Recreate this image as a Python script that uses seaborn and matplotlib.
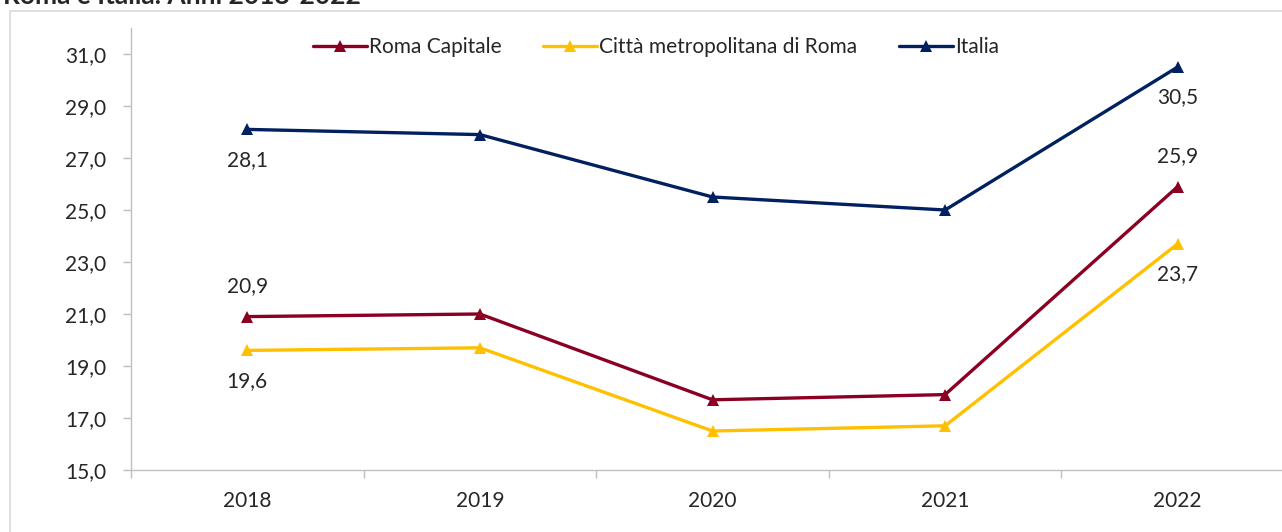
import matplotlib
matplotlib.use("Agg")
import matplotlib.pyplot as plt
from matplotlib.patches import Rectangle
from matplotlib.ticker import FixedLocator
import pandas as pd
import seaborn as sns

# data
anni = [2018, 2019, 2020, 2021, 2022]
roma_capitale = [20.9, 21.0, 17.7, 17.9, 25.9]
citta_metro = [19.6, 19.7, 16.5, 16.7, 23.7]
italia = [28.1, 27.9, 25.5, 25.0, 30.5]
serie = ["Roma Capitale", "Città metropolitana di Roma", "Italia"]
colori = ["#8B0022", "#FFC000", "#002060"]
y_ticks = [15, 17, 19, 21, 23, 25, 27, 29, 31]

df = pd.DataFrame({
    "anno": anni * 3,
    "valore": roma_capitale + citta_metro + italia,
    "serie": [s for s in serie for _ in anni],
})

sns.set_style("white")
plt.rcParams["font.family"] = ["Lato", "DejaVu Sans"]
fs = 15

fig = plt.figure(figsize=(12.82, 5.32), dpi=100)
ax = fig.add_axes([131 / 1282, 62 / 532, 1163 / 1282, 442 / 532])

sns.lineplot(
    data=df, x="anno", y="valore", hue="serie", hue_order=serie,
    palette=colori, marker="^", markersize=9, markeredgewidth=0,
    linewidth=2.4, ax=ax, legend=True,
)

ax.set_xlim(2017.5, 2022.5)
ax.set_ylim(15, 32)
ax.set_yticks(y_ticks)
ax.set_yticklabels([f"{v:.1f}".replace(".", ",") for v in y_ticks], fontsize=fs)
ax.set_xticks(anni)
ax.set_xticklabels([str(a) for a in anni], fontsize=fs)
ax.xaxis.set_minor_locator(FixedLocator([2017.5 + i for i in range(6)]))
ax.tick_params(axis="x", which="major", length=0, pad=15)
ax.tick_params(axis="x", which="minor", length=6, color="#bfbfbf", width=1, bottom=True)
ax.tick_params(axis="y", length=6, color="#bfbfbf", width=1, left=True, pad=12)
ax.set_xlabel("")
ax.set_ylabel("")
ax.grid(False)
for side in ["top", "right"]:
    ax.spines[side].set_visible(False)
for side in ["left", "bottom"]:
    ax.spines[side].set_color("#bfbfbf")
    ax.spines[side].set_linewidth(1)

# data labels at first and last year
def lab(x, y, dy):
    ax.annotate(f"{y:.1f}".replace(".", ","), (x, y), xytext=(0, dy),
                textcoords="offset points", ha="center", va="center", fontsize=fs)

lab(anni[0], italia[0], -22)
lab(anni[0], roma_capitale[0], 22)
lab(anni[0], citta_metro[0], -22)
lab(anni[-1], italia[-1], -22)
lab(anni[-1], roma_capitale[-1], 22)
lab(anni[-1], citta_metro[-1], -22)

ax.legend_.remove()
handles, labels = ax.get_legend_handles_labels()
fig.legend(handles, labels, loc="center", bbox_to_anchor=(656 / 1282, 1 - 47 / 532),
           ncol=3, frameon=False, fontsize=fs, handlelength=2.6,
           handletextpad=0.1, columnspacing=2.0)

# outer chart frame and title (cut off at the top, as in the reference)
fig.add_artist(Rectangle((10 / 1282, -0.1), 2, 1.1 - 11 / 532, transform=fig.transFigure,
                         fill=False, edgecolor="#d9d9d9", linewidth=1.2))
fig.text(3 / 1282, 1 - 3.5 / 532, "Roma e Italia. Anni 2018-2022", fontsize=19,
         fontweight="bold", ha="left", va="baseline")

fig.savefig("out.png", dpi=100)
